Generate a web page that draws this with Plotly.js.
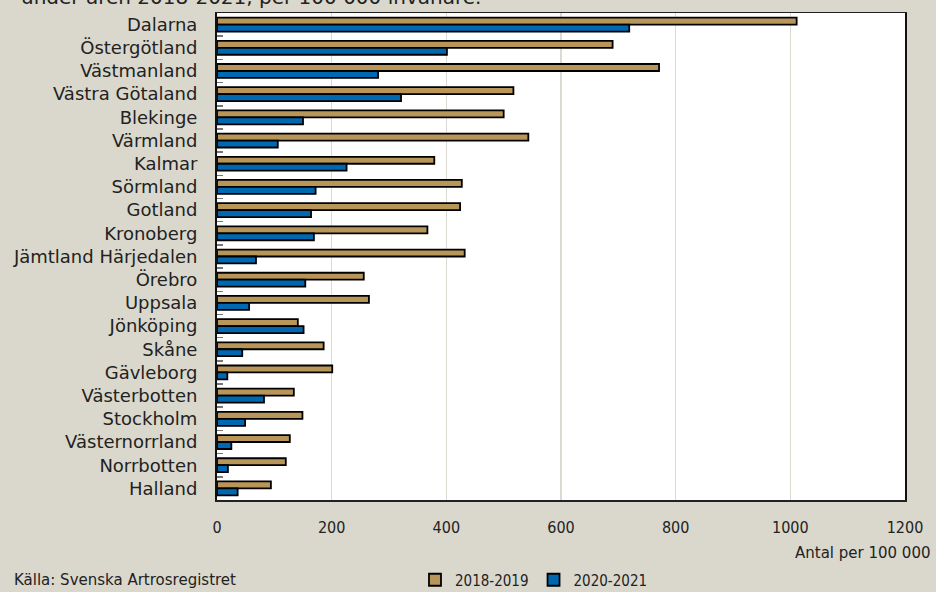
<!DOCTYPE html>
<html>
<head>
<meta charset="utf-8">
<script src="https://cdn.plot.ly/plotly-3.0.1.min.js"></script>
<style>html,body{margin:0;padding:0;background:#dad8cc;}#chart{width:936px;height:592px;}</style>
</head>
<body>
<div id="chart"></div>
<script>
const regions = ["Dalarna","Östergötland","Västmanland","Västra Götaland","Blekinge","Värmland","Kalmar","Sörmland","Gotland","Kronoberg","Jämtland Härjedalen","Örebro","Uppsala","Jönköping","Skåne","Gävleborg","Västerbotten","Stockholm","Västernorrland","Norrbotten","Halland"];
const values2018_2019 = [1011,690,771,517,500,543,379,427,424,367,432,256,265,141,186,201,134,149,127,120,94];
const values2020_2021 = [719,401,281,321,150,106,226,172,164,169,68,154,56,151,44,18,82,49,25,19,36];
const seriesNames = ["2018-2019","2020-2021"];
const xTicks = [0,200,400,600,800,1000,1200];

const font = "DejaVu Sans Condensed, DejaVu Sans, sans-serif";
const wide = "DejaVu Sans, sans-serif";
const traces = [
  {type:"bar", orientation:"h", name:seriesNames[0], y:regions, x:values2018_2019,
   marker:{color:"#b8965a", line:{color:"#000", width:1.8}}},
  {type:"bar", orientation:"h", name:seriesNames[1], y:regions, x:values2020_2021,
   marker:{color:"#0068b0", line:{color:"#000", width:1.8}}}
];
const layout = {
  width:936, height:592,
  paper_bgcolor:"#dad8cc", plot_bgcolor:"#ffffff",
  margin:{l:217, r:31, t:13, b:92, autoexpand:false},
  barmode:"group", bargap:0.4, bargroupgap:0,
  font:{family:font, color:"#222", size:14},
  xaxis:{range:[0,1200], tickvals:xTicks, ticktext:xTicks.map(String),
    showgrid:true, gridcolor:"#dcdbd3", gridwidth:1.5, zeroline:false,
    showline:true, linecolor:"#222", linewidth:1.5, mirror:true,
    ticks:"", ticklabelstandoff:12, tickfont:{family:font, size:16, color:"#222"}},
  yaxis:{type:"category", autorange:"reversed", showline:true, linecolor:"#111", linewidth:2, mirror:true,
    ticks:"inside", tickson:"boundaries", ticklen:6, tickcolor:"#777", tickwidth:1.5,
    ticklabelstandoff:14, showgrid:false, tickfont:{family:wide, size:18, color:"#222"}},
  showlegend:true,
  legend:{orientation:"h", xref:"container", yref:"container", x:0.5705, xanchor:"center", y:0.0203, yanchor:"middle",
    font:{family:font, size:15, color:"#222"}, bgcolor:"rgba(0,0,0,0)", itemwidth:30, traceorder:"normal"},
  annotations:[
    {text:"under åren 2018-2021, per 100 000 invånare.", xref:"paper", yref:"paper",
     x:-0.2875, xanchor:"left", y:1.0, yshift:2, yanchor:"bottom", showarrow:false,
     font:{family:wide, size:20, color:"#222"}},
    {text:"Antal per 100 000", xref:"paper", yref:"paper", x:1.0407, xanchor:"right",
     y:-0.109, yanchor:"middle", showarrow:false, font:{family:wide, size:15, color:"#222"}},
    {text:"Källa: Svenska Artrosregistret", xref:"paper", yref:"paper", x:-0.298, xanchor:"left",
     y:-0.164, yanchor:"middle", showarrow:false, font:{family:wide, size:15, color:"#222"}}
  ]
};
Plotly.newPlot("chart", traces, layout, {displayModeBar:false, staticPlot:true});
</script>
</body>
</html>
